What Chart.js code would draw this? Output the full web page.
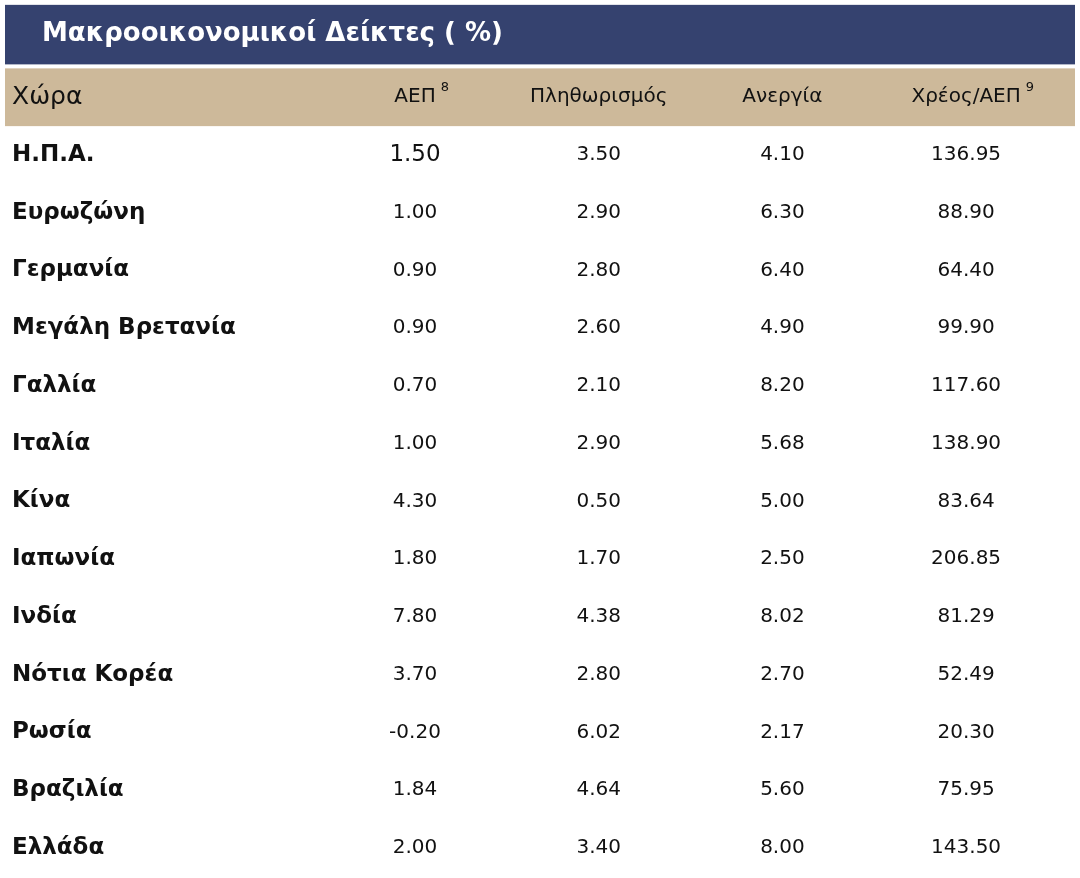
<!DOCTYPE html>
<html lang="el">
<head>
<meta charset="UTF-8">
<title>Μακροοικονομικοί Δείκτες</title>
<script src="https://cdn.jsdelivr.net/npm/chart.js"></script>
<style>
  body, html { margin: 0; padding: 0; background: #fff; overflow: hidden; }
  #wrap { width: 1080px; height: 878px; }
</style>
</head>
<body>
<div id="wrap"><canvas id="tableChart"></canvas></div>
<script>
const title = 'Μακροοικονομικοί Δείκτες ( %)';
const headers = ['Χώρα', 'ΑΕΠ', 'Πληθωρισμός', 'Ανεργία', 'Χρέος/ΑΕΠ'];
const headerNotes = ['', '8', '', '', '9'];
const countries = ['Η.Π.Α.', 'Ευρωζώνη', 'Γερμανία', 'Μεγάλη Βρετανία', 'Γαλλία', 'Ιταλία', 'Κίνα',
                   'Ιαπωνία', 'Ινδία', 'Νότια Κορέα', 'Ρωσία', 'Βραζιλία', 'Ελλάδα'];
const gdp = [1.50, 1.00, 0.90, 0.90, 0.70, 1.00, 4.30, 1.80, 7.80, 3.70, -0.20, 1.84, 2.00];
const inflation = [3.50, 2.90, 2.80, 2.60, 2.10, 2.90, 0.50, 1.70, 4.38, 2.80, 6.02, 4.64, 3.40];
const unemployment = [4.10, 6.30, 6.40, 4.90, 8.20, 5.68, 5.00, 2.50, 8.02, 2.70, 2.17, 5.60, 8.00];
const debt = [136.95, 88.90, 64.40, 99.90, 117.60, 138.90, 83.64, 206.85, 81.29, 52.49, 20.30, 75.95, 143.50];

const valueCols = [gdp, inflation, unemployment, debt];

// one invisible point per cell: x = column index, y = row index (0 = header)
const cells = [];
countries.forEach((c, r) => {
  cells.push({ x: 0, y: r + 1, text: c, kind: 'country' });
  valueCols.forEach((col, ci) => {
    cells.push({ x: ci + 1, y: r + 1, text: col[r].toFixed(2), kind: r === 0 && ci === 0 ? 'big' : 'value' });
  });
});
headers.forEach((h, ci) => cells.push({ x: ci, y: 0, text: h, note: headerNotes[ci], kind: 'header' }));

const FONT = '"DejaVu Sans", Verdana, sans-serif';

const tablePlugin = {
  id: 'tablePlugin',
  beforeDatasetsDraw(chart) {
    const { ctx, scales: { y }, width } = chart;
    ctx.save();
    // title bar
    const t0 = y.getPixelForValue(-1.6), t1 = y.getPixelForValue(-0.5);
    ctx.fillStyle = '#35426f';
    ctx.fillRect(5, t0, width - 10, t1 - t0 - 4);
    ctx.fillStyle = '#fff';
    ctx.font = 'bold 26px ' + FONT;
    ctx.textBaseline = 'middle';
    ctx.textAlign = 'left';
    ctx.fillText(title, 42, (t0 + t1 - 4) / 2);
    // header band
    const h0 = y.getPixelForValue(-0.5), h1 = y.getPixelForValue(0.5);
    ctx.fillStyle = '#cdb99a';
    ctx.fillRect(5, h0, width - 10, h1 - h0);
    ctx.restore();
  },
  afterDatasetsDraw(chart) {
    const { ctx } = chart;
    const meta = chart.getDatasetMeta(0);
    ctx.save();
    ctx.textBaseline = 'middle';
    meta.data.forEach((pt, i) => {
      const c = cells[i];
      let px = pt.x;
      if (c.x === 0) { ctx.textAlign = 'left'; px = 12; } else ctx.textAlign = 'center';
      if (c.kind === 'country') ctx.font = 'bold 23px ' + FONT;
      else if (c.kind === 'header') ctx.font = (c.x === 0 ? '25px ' : '20px ') + FONT;
      else if (c.kind === 'big') ctx.font = '23px ' + FONT;
      else ctx.font = '20px ' + FONT;
      ctx.fillStyle = '#111';
      ctx.fillText(c.text, px, pt.y);
      if (c.note) {
        const w = ctx.measureText(c.text).width;
        ctx.font = '13px ' + FONT;
        ctx.textAlign = 'left';
        ctx.fillText(c.note, px + w / 2 + 5, pt.y - 10);
      }
    });
    ctx.restore();
  }
};

new Chart(document.getElementById('tableChart'), {
  type: 'scatter',
  data: { datasets: [{ data: cells, pointRadius: 0, pointHoverRadius: 0 }] },
  options: {
    responsive: true,
    maintainAspectRatio: false,
    animation: false,
    layout: { padding: 0 },
    plugins: { legend: { display: false }, tooltip: { enabled: false } },
    scales: {
      x: { type: 'linear', display: false, min: -1.259, max: 4.62 },
      y: { type: 'linear', display: false, reverse: true, min: -1.684, max: 13.519 }
    }
  },
  plugins: [tablePlugin]
});
</script>
</body>
</html>
